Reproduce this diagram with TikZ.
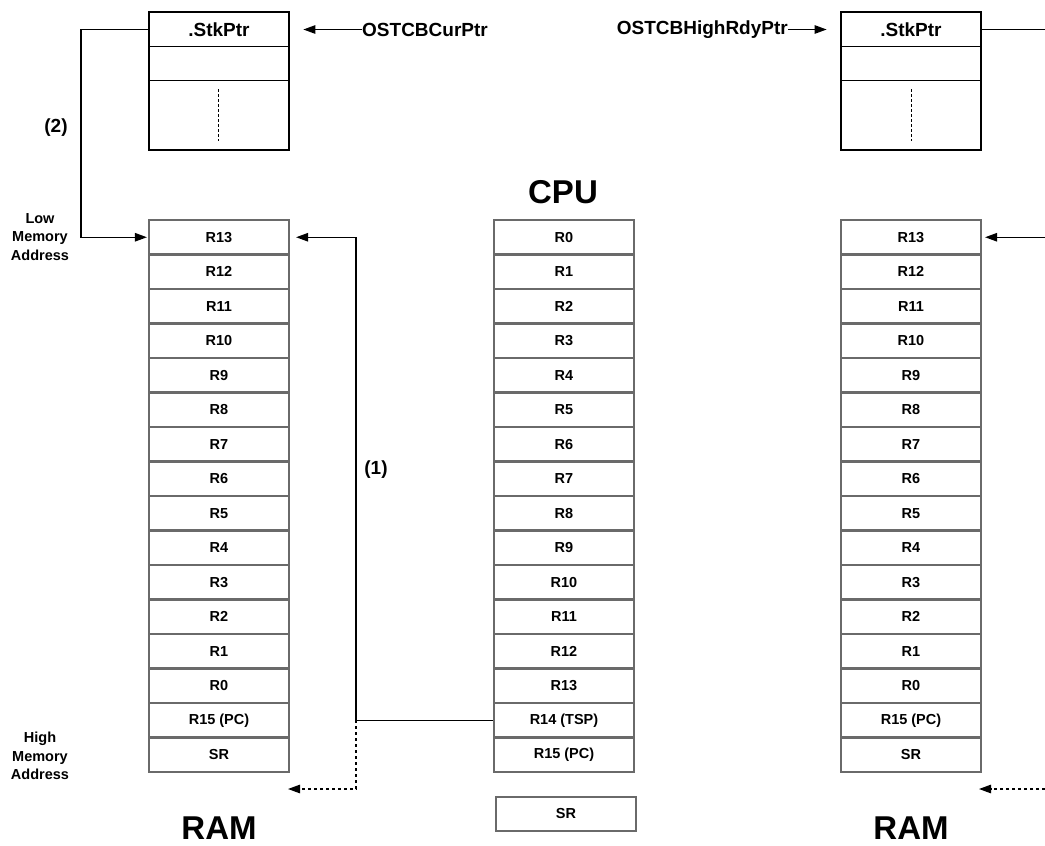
\documentclass[tikz,border=0pt]{standalone}
\usepackage{fontspec}
\setmainfont{Liberation Sans}
\usetikzlibrary{arrows.meta}
\definecolor{regray}{HTML}{6A6A6A}
\begin{document}
\begin{tikzpicture}[x=1pt,y=-1pt,
  reg/.style={draw=regray,line width=2.2pt,minimum width=140pt,minimum height=34.5pt,inner sep=0pt,font=\fontsize{14.5}{17}\selectfont\bfseries},
  tcb/.style={draw=black,line width=2.8pt,minimum width=140pt,minimum height=138pt,inner sep=0pt},
  lbl/.style={font=\fontsize{19}{22}\selectfont\bfseries,inner sep=0pt},
  big/.style={font=\fontsize{33}{38}\selectfont\bfseries,inner sep=0pt},
  side/.style={font=\fontsize{14.5}{18.5}\selectfont\bfseries,align=center,inner sep=0pt},
  arr/.style={-{Triangle[length=12pt,width=8.5pt]},line width=1.2pt},
  ln/.style={line width=1.2pt},
  rowline/.style={line width=1.6pt},
  dots/.style={line width=1pt,dash pattern=on 3pt off 2pt}]
\useasboundingbox (0,0) rectangle (1045,846);
\fill[white] (0,0) rectangle (1045,846);

% TCB boxes
\node[tcb] (tcbL) at (219,81) {};
\node[lbl] (stkL) at (219,29.5) {.StkPtr};
\draw[rowline] (149,46.5) -- (289,46.5);
\draw[rowline] (149,80.5) -- (289,80.5);
\draw[dots] (218,89) -- (218,141);

\node[tcb] (tcbR) at (911,81) {};
\node[lbl] (stkR) at (911,29.5) {.StkPtr};
\draw[rowline] (841,46.5) -- (981,46.5);
\draw[rowline] (841,80.5) -- (981,80.5);
\draw[dots] (911,89) -- (911,141);

% stacks
\foreach \t [count=\i from 0] in {R13,R12,R11,R10,R9,R8,R7,R6,R5,R4,R3,R2,R1,R0,R15 (PC),SR}
  \node[reg] (L\i) at (219,{237.25+34.5*\i}) {\t};
\foreach \t [count=\i from 0] in {R0,R1,R2,R3,R4,R5,R6,R7,R8,R9,R10,R11,R12,R13,R14 (TSP),R15 (PC)}
  \node[reg] (C\i) at (564,{237.25+34.5*\i}) {\t};
\foreach \t [count=\i from 0] in {R13,R12,R11,R10,R9,R8,R7,R6,R5,R4,R3,R2,R1,R0,R15 (PC),SR}
  \node[reg] (R\i) at (911,{237.25+34.5*\i}) {\t};
\node[reg] (cSR) at (566,814) {SR};

% labels
\node[big] (cpu) at (563,192) {CPU};
\node[big] (ramL) at (219,828) {RAM};
\node[big] (ramR) at (911,828) {RAM};
\node[side] (low) at (40,237) {Low\\Memory\\Address};
\node[side] (high) at (40,756) {High\\Memory\\Address};
\node[lbl] (two) at (56,128) {(2)};
\node[lbl] (one) at (376,470) {(1)};
\node[lbl,anchor=west] (cur) at (362,29.5) {OSTCBCurPtr};
\node[lbl,anchor=east] (hrdy) at (788,29.5) {OSTCBHighRdyPtr};

% connectors
\coordinate (jL) at (81,0);
\coordinate (j1) at (356,0);
\coordinate (edgeR) at (1045,0);
\coordinate (dashL) at (288,789);
\coordinate (dashR0) at (1045,789);
\coordinate (dashR) at (979,789);

\draw[arr] (tcbL.west |- stkL) -- (stkL -| jL) |- ([xshift=-1pt]L0.west);
\draw[arr] (cur.west) -- ([xshift=13pt]tcbL.east |- cur.west);
\draw[arr] (hrdy.east) -- ([xshift=-13pt]tcbR.west |- hrdy.east);
\draw[arr] (C14.west) -- (C14.west -| j1) |- ([xshift=6pt]L0.east);
\draw[arr,dashed] (C14.west -| j1) |- (dashL);
\draw[ln] (tcbR.east |- stkR) -- (stkR -| edgeR);
\draw[arr] (R0.east -| edgeR) -- ([xshift=3pt]R0.east);
\draw[arr,dashed] (dashR0) -- (dashR);
\end{tikzpicture}
\end{document}
